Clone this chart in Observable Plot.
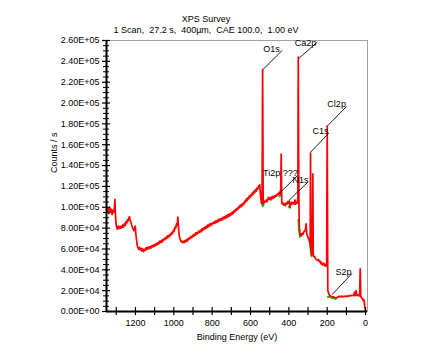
<!DOCTYPE html>
<html><head><meta charset="utf-8">
<script src="https://cdn.jsdelivr.net/npm/d3@7"></script>
<script src="https://cdn.jsdelivr.net/npm/@observablehq/plot@0.6"></script>
<style>html,body{margin:0;padding:0;background:#fff;overflow:hidden}</style>
</head><body><div id="chart"></div>
<script>
const title = "XPS Survey";
const subtitle = "1 Scan,\u00a0 27.2 s,\u00a0 400µm,\u00a0 CAE 100.0,\u00a0 1.00 eV";
const xLabel = "Binding Energy (eV)";
const yLabel = "Counts / s";

// Survey spectrum: [binding energy (eV), counts/s in thousands]
const spectrum = [[1350,98],[1346,95],[1342,99],[1338,94],[1334,100],[1330,95],[1326,98],[1322,93],[1318,97],[1314,95],[1310,99],[1307,107.5],[1304,92],[1301,84],[1298,81],[1294,79],[1290,82],[1286,79.5],[1282,81.5],[1278,80],[1274,82],[1270,80.5],[1266,83],[1262,81],[1258,84],[1254,82.5],[1250,86],[1246,84.5],[1242,88],[1238,87],[1234,90],[1231,91],[1228,88],[1224,86],[1220,83],[1216,81],[1212,79],[1208,77.5],[1204,80],[1201,82],[1198,74],[1195,70],[1192,65],[1189,62],[1186,61],[1182,59.5],[1178,61.5],[1174,59],[1170,60.5],[1166,58],[1162,60],[1158,57.5],[1154,59.5],[1150,58.5],[1146,61],[1142,59.5],[1138,61.5],[1134,60],[1130,62],[1126,60.5],[1122,62.5],[1118,61],[1114,63],[1110,62],[1106,64],[1102,62.5],[1098,64.5],[1094,63.5],[1090,65.5],[1086,64],[1082,66],[1078,65],[1074,67.5],[1070,66],[1066,68],[1062,66.5],[1058,69],[1054,68],[1050,70],[1046,69],[1042,71],[1038,70],[1034,72.5],[1030,71],[1026,73],[1022,72],[1018,74.5],[1014,73.5],[1010,76],[1006,75],[1002,78],[998,77],[994,81],[990,80],[986,84],[982,83],[979,90.5],[976,82],[973,75],[970,71],[966,69],[962,67],[958,67.5],[954,66],[950,67.5],[946,66],[942,68],[938,67],[934,69],[930,67.5],[926,70],[922,69],[918,71],[914,70],[910,72],[906,71],[902,73],[898,72],[894,74],[890,73],[886,75.5],[882,74],[878,76],[874,75],[870,77],[866,76],[862,78],[858,76.5],[854,79],[850,77.5],[846,80],[842,79],[838,81],[834,79.5],[830,82],[826,80.5],[822,83],[818,81.5],[814,84],[810,82.5],[806,84.5],[802,83],[798,85],[794,84.5],[790,86],[786,84.5],[782,87],[778,85.5],[774,87.5],[770,86],[766,88.5],[762,87],[758,89],[754,87.5],[750,89.5],[746,88],[742,90.5],[738,89],[734,91],[730,89.5],[726,92],[722,90.5],[718,93],[714,91],[710,93.5],[706,92],[702,94.5],[698,93],[694,95.5],[690,94],[686,96.5],[682,95.5],[678,98],[674,97],[670,99],[666,98],[662,100.5],[658,99.5],[654,102],[650,100.5],[646,103],[642,101.5],[638,104],[634,103],[630,106],[626,105],[622,108],[618,106.5],[614,109],[610,108],[606,111],[602,109.5],[598,112],[594,111],[590,114],[586,112.5],[582,115.5],[578,114],[574,117],[570,115.5],[566,118.5],[562,117.5],[558,120.5],[555,119],[552,121.5],[549,114],[546,108],[543,104],[540,103],[538,180],[537,232],[536,200],[534,103],[530,104.5],[526,106],[522,105],[518,107],[514,105.5],[510,108],[506,109.5],[502,107.5],[498,109],[494,107],[490,110],[486,108.5],[482,110.5],[478,109],[474,111],[470,110],[466,112],[462,111],[458,113],[454,112.5],[450,114.5],[446,112],[443,113],[440,151],[437,104],[434,103],[430,104],[426,102],[422,103.5],[418,101.5],[414,104],[410,103],[406,105.5],[402,104],[398,106],[395,100],[392,104],[388,102.5],[384,105],[380,103.5],[376,104.5],[372,103],[368,107],[364,103],[360,105],[356,104],[353,110],[351,244],[349,150],[347,95],[345,80],[342,73],[338,74.5],[334,72.5],[330,75],[326,74],[322,76.5],[318,77],[314,78],[310,84],[307,75],[304,73],[300,71],[296,69],[292,67],[289,65],[287,152],[285,60],[282,54],[278,54.5],[275,132],[273,54],[270,52.5],[266,53],[262,51],[258,50],[254,49.5],[250,49],[246,50],[242,48],[238,48.5],[234,46],[230,47],[226,44.5],[222,45],[218,46.5],[214,44],[210,45],[206,43.5],[203,44],[200,178],[197,20],[194,18.5],[190,16],[186,15.3],[182,14.8],[178,14.4],[174,14.2],[170,13.7],[166,14.1],[162,13.5],[158,13.2],[154,12.8],[150,13.3],[146,13.8],[142,14.4],[138,14],[134,14.6],[130,14.2],[126,14.7],[122,14.1],[118,14.5],[114,14.2],[110,14.8],[106,14.3],[102,14.6],[98,14.2],[94,15],[90,14.7],[86,15.2],[82,15],[78,15.4],[74,15.1],[70,15.6],[66,15.3],[62,15.8],[58,18.5],[55,15],[52,16.5],[49,20],[46,15.5],[42,16],[38,15],[34,16.2],[31,15],[28,41],[25,14.5],[21,13],[17,12.5],[13,10.5],[10,11.5],[7,9.5],[4,4],[2,1.5],[1,0.5]];

// Background fit segments (green): [eV, counts/s in thousands]
const backgrounds = [
  [[538,101],[531,102.5]],
  [[450,110.5],[443,111.5]],
  [[401,100.5],[393,99.5]],
  [[350,88],[347,78],[342,71.5]],
  [[292,66],[289,63],[285,57],[281,53]],
  [[197,14],[185,13.8],[170,13],[155,12]]
];

// Peak annotations
const peakNames = ["O1s", "Ca2p", "Cl2p", "C1s", "Ti2p ???", "N1s", "S2p"];
const leaderFromEnergy = [536, 351, 197, 287, 452, 400, 174];
const leaderFromCounts = [232, 242.4, 178.4, 152.8, 112.9, 106.5, 16.3];
const leaderToEnergy = [435, 252, 99.5, 192, 355, 302, 70];
const leaderToCounts = [250.4, 258.4, 196.7, 171.1, 130.5, 124, 36.7];
const nameEnergy = [491, 313, 151, 235, 444, 340, 115];
const nameCounts = [252.2, 257.1, 199.3, 173, 132.7, 125.7, 37.9];

const yTickValues = [0, 20000, 40000, 60000, 80000, 100000, 120000, 140000, 160000, 180000, 200000, 220000, 240000, 260000];
const xTickLabels = [1200, 1000, 800, 600, 400, 200, 0];
const xTickMarks = [1300, 1200, 1100, 1000, 900, 800, 700, 600, 500, 400, 300, 200, 100, 0];

const K = 1000;
const xLeft = 1351;
const fmtE = d => {
  const [m, e] = d.toExponential(2).split("e");
  const n = +e;
  return `${m}E${n < 0 ? "-" : "+"}${String(Math.abs(n)).padStart(2, "0")}`;
};
const yMinor = d3.range(0, 260001, 5000).filter(v => v % 20000 !== 0);

const bgData = backgrounds.flatMap((seg, k) => seg.map(p => ({e: p[0], c: p[1] * K, k})));
const ann = peakNames.map((name, i) => ({
  name,
  x1: leaderFromEnergy[i], y1: leaderFromCounts[i] * K,
  x2: leaderToEnergy[i], y2: leaderToCounts[i] * K,
  tx: nameEnergy[i], ty: nameCounts[i] * K
}));

const chart = Plot.plot({
  width: 431, height: 357,
  marginLeft: 106, marginRight: 64, marginTop: 40, marginBottom: 46,
  x: {domain: [xLeft, -10], axis: null},
  y: {domain: [0, 260000], axis: null},
  style: {fontFamily: "'Liberation Sans', Arial, sans-serif", fontSize: "9px", background: "#fff", color: "#000", overflow: "visible"},
  marks: [
    Plot.frame({stroke: "#a0a0a0"}),
    Plot.line(bgData, {x: "e", y: "c", z: "k", stroke: "#00d000", strokeWidth: 2}),
    Plot.line(spectrum, {x: d => d[0], y: d => d[1] * K, stroke: "#ff0000", strokeWidth: 1.7}),
    Plot.link(ann, {x1: "x1", y1: "y1", x2: "x2", y2: "y2", stroke: "#000", strokeWidth: 0.9}),
    Plot.text(ann, {x: "tx", y: "ty", text: "name", fill: "#000"}),
    Plot.ruleX([xLeft], {stroke: "#000", strokeWidth: 2}),
    Plot.ruleY([0], {stroke: "#000", strokeWidth: 2}),
    Plot.ruleY(yTickValues, {y: d => d, x1: () => xLeft, x2: () => xLeft, insetLeft: -4, insetRight: -4, stroke: "#000", strokeWidth: 1.2}),
    Plot.ruleY(yMinor, {y: d => d, x1: () => xLeft, x2: () => xLeft, insetLeft: -3, insetRight: -3, stroke: "#000", strokeWidth: 1}),
    Plot.ruleX(xTickMarks, {x: d => d, y1: () => 0, y2: () => 0, insetTop: -4, insetBottom: -4, stroke: "#000", strokeWidth: 1.2}),
    Plot.text(yTickValues, {x: () => xLeft, y: d => d, text: fmtE, textAnchor: "end", dx: -7, fill: "#000"}),
    Plot.text(xTickLabels, {x: d => d, y: () => 0, text: d => String(d), dy: 12, fill: "#000"}),
    Plot.text([title], {frameAnchor: "top", text: d => d, dx: -31, dy: -24.5, fill: "#000"}),
    Plot.text([subtitle], {frameAnchor: "top", text: d => d, dx: -31, dy: -14, fill: "#000"}),
    Plot.text([xLabel], {frameAnchor: "bottom", text: d => d, dy: 28, fill: "#000"}),
    Plot.text([yLabel], {frameAnchor: "left", text: d => d, rotate: -90, dx: -52, dy: -3, fill: "#000"})
  ]
});
document.getElementById("chart").append(chart);
</script></body></html>
